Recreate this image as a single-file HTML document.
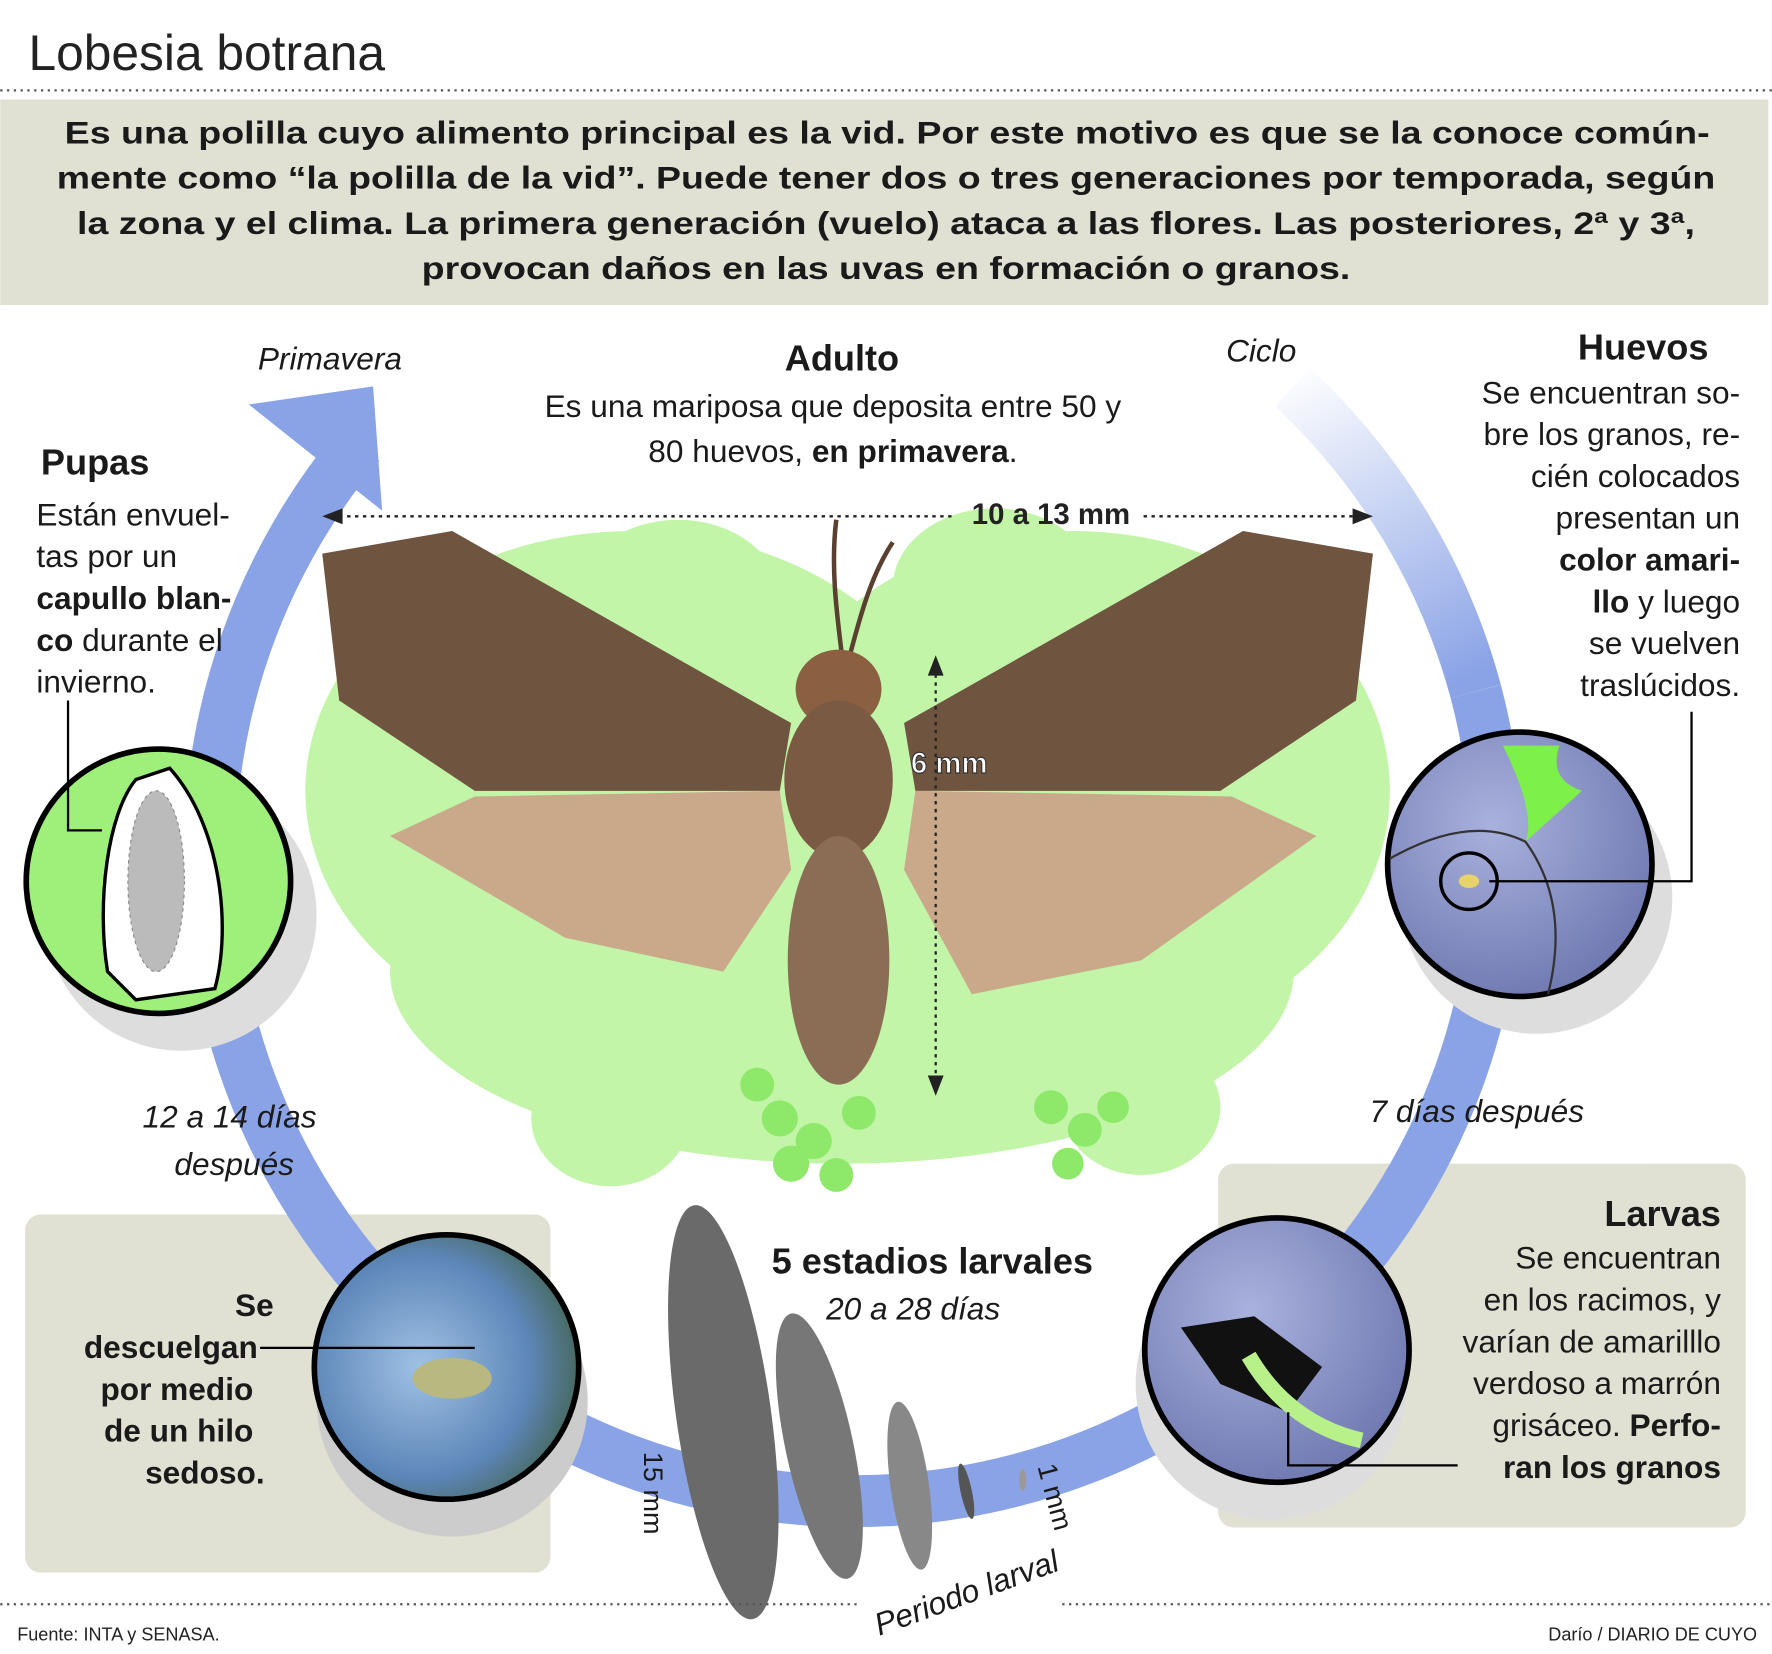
<!DOCTYPE html>
<html><head><meta charset="utf-8"><style>
html,body{margin:0;padding:0;background:#fff}
svg{display:block}
text{font-family:"Liberation Sans",sans-serif}
</style></head><body>
<svg width="1772" height="1654" viewBox="0 0 1568 1464" xmlns="http://www.w3.org/2000/svg">
<defs>
<linearGradient id="fade" gradientUnits="userSpaceOnUse" x1="1160" y1="320" x2="1300" y2="600">
<stop offset="0" stop-color="#8aa3e6" stop-opacity="0"/><stop offset="1" stop-color="#8aa3e6"/></linearGradient>
<radialGradient id="ball" cx="0.4" cy="0.35" r="0.7"><stop offset="0" stop-color="#a9b1dd"/><stop offset="1" stop-color="#6e78b0"/></radialGradient>
<radialGradient id="photo" cx="0.4" cy="0.5" r="0.7"><stop offset="0" stop-color="#9fc1e4"/><stop offset="0.6" stop-color="#5d86b8"/><stop offset="1" stop-color="#3b5a2f"/></radialGradient>
</defs>
<rect width="1568" height="1464" fill="#fff"/>
<text x="25" y="62" font-size="44" fill="#222">Lobesia botrana</text>
<line x1="0" y1="80" x2="1568" y2="80" stroke="#555" stroke-width="2" stroke-dasharray="2,4"/>
<rect x="0" y="88" width="1565" height="182" fill="#e0e0d3"/>
<g font-size="28" font-weight="bold" fill="#1a1a1a">
<text x="57" y="127" textLength="1456" lengthAdjust="spacingAndGlyphs">Es una polilla cuyo alimento principal es la vid. Por este motivo es que se la conoce común-</text>
<text x="50" y="167" textLength="1468" lengthAdjust="spacingAndGlyphs">mente como “la polilla de la vid”. Puede tener dos o tres generaciones por temporada, según</text>
<text x="68" y="207" textLength="1432" lengthAdjust="spacingAndGlyphs">la zona y el clima. La primera generación (vuelo) ataca a las flores. Las posteriores, 2ª y 3ª,</text>
<text x="373" y="247" textLength="822" lengthAdjust="spacingAndGlyphs">provocan daños en las uvas en formación o granos.</text>
</g>
<!-- boxes -->
<rect x="1078" y="1030" width="467" height="322" rx="14" fill="#e0e0d3"/>
<rect x="22" y="1075" width="465" height="317" rx="14" fill="#e0e0d3"/>
<!-- ring -->
<path d="M1306,612 A570,570 0 1 1 318,393" fill="none" stroke="#8aa3e6" stroke-width="46"/>
<path d="M1144,343 A570,570 0 0 1 1306,612" fill="none" stroke="url(#fade)" stroke-width="46"/>
<polygon points="330,342 220,358 338,452" fill="#8aa3e6"/>
<!-- leaves -->
<g fill="#c2f5a8">
<ellipse cx="560" cy="700" rx="290" ry="230"/><ellipse cx="950" cy="700" rx="280" ry="230"/>
<ellipse cx="745" cy="860" rx="400" ry="170"/><ellipse cx="600" cy="530" rx="90" ry="70"/><ellipse cx="880" cy="520" rx="90" ry="70"/>
<ellipse cx="540" cy="990" rx="70" ry="60"/><ellipse cx="1010" cy="980" rx="70" ry="60"/>
</g>
<g fill="#8ee86a">
<circle cx="690" cy="990" r="16"/><circle cx="720" cy="1010" r="16"/><circle cx="700" cy="1030" r="16"/><circle cx="740" cy="1040" r="15"/><circle cx="670" cy="960" r="15"/><circle cx="760" cy="985" r="15"/>
<circle cx="930" cy="980" r="15"/><circle cx="960" cy="1000" r="15"/><circle cx="945" cy="1030" r="14"/><circle cx="985" cy="980" r="14"/>
</g>
<!-- moth wings -->
<polygon points="285,490 400,470 700,640 690,700 420,700 300,620" fill="#6f5440"/>
<polygon points="1215,490 1100,470 800,640 810,700 1080,700 1200,620" fill="#6f5440"/>
<polygon points="345,740 420,705 690,700 700,770 640,860 500,830" fill="#c9a98a"/>
<polygon points="1165,740 1090,705 810,700 800,770 860,880 1010,850" fill="#c9a98a"/>
<path d="M740,460 C735,500 740,540 745,580 M790,480 C770,510 760,550 752,580" stroke="#5a4030" stroke-width="4" fill="none"/>
<ellipse cx="742" cy="610" rx="38" ry="35" fill="#8a6040"/>
<ellipse cx="742" cy="690" rx="48" ry="70" fill="#7a5a42"/>
<ellipse cx="742" cy="850" rx="45" ry="110" fill="#8b6d55"/>
<!-- arrows -->
<line x1="300" y1="457" x2="845" y2="457" stroke="#222" stroke-width="2" stroke-dasharray="3,4"/>
<line x1="1012" y1="457" x2="1200" y2="457" stroke="#222" stroke-width="2" stroke-dasharray="3,4"/>
<polygon points="285,457 303,450 303,464" fill="#222"/><polygon points="1215,457 1197,450 1197,464" fill="#222"/>
<text x="930" y="464" font-size="26" font-weight="bold" text-anchor="middle" fill="#222">10 a 13 mm</text>
<line x1="828" y1="590" x2="828" y2="960" stroke="#222" stroke-width="2" stroke-dasharray="3,4"/>
<polygon points="828,580 821,598 835,598" fill="#222"/><polygon points="828,970 821,952 835,952" fill="#222"/>
<text x="840" y="684" font-size="26" font-weight="bold" text-anchor="middle" fill="#fff" stroke="#333" stroke-width="1">6 mm</text>
<!-- circles -->
<circle cx="160" cy="810" r="120" fill="#ddd"/>
<circle cx="140" cy="780" r="117" fill="#9ef07a" stroke="#000" stroke-width="5"/>
<path d="M120,690 C95,720 85,800 95,860 L120,885 L190,875 C205,820 195,730 150,680 Z" fill="#fff" stroke="#000" stroke-width="3"/>
<ellipse cx="138" cy="780" rx="25" ry="80" fill="#bbb" stroke="#888" stroke-dasharray="3,3"/>
<polyline points="60,620 60,735 90,735" fill="none" stroke="#000" stroke-width="2"/>
<circle cx="1360" cy="795" r="120" fill="#ddd"/>
<circle cx="1345" cy="765" r="117" fill="url(#ball)" stroke="#000" stroke-width="5"/>
<path d="M1330,660 Q1360,720 1350,745 L1400,700 Q1370,690 1380,660 Z" fill="#7ef04a"/>
<path d="M1230,760 Q1300,720 1350,745 Q1390,800 1370,880" fill="none" stroke="#333" stroke-width="2"/>
<circle cx="1300" cy="780" r="25" fill="none" stroke="#000" stroke-width="3"/><ellipse cx="1300" cy="780" rx="9" ry="6" fill="#e8d36a"/>
<polyline points="1318,780 1497,780 1497,630" fill="none" stroke="#000" stroke-width="2"/>
<circle cx="1125" cy="1225" r="120" fill="#ddd"/>
<circle cx="1130" cy="1195" r="117" fill="url(#ball)" stroke="#000" stroke-width="5"/>
<path d="M1045,1175 L1110,1165 L1170,1210 L1140,1250 L1080,1225 Z" fill="#111"/>
<path d="M1105,1200 Q1140,1260 1205,1275" stroke="#b8f08a" stroke-width="14" fill="none"/>
<polyline points="1140,1250 1140,1297 1290,1297" fill="none" stroke="#000" stroke-width="2"/>
<circle cx="400" cy="1240" r="120" fill="#ccc"/>
<circle cx="395" cy="1210" r="117" fill="url(#photo)" stroke="#000" stroke-width="5"/>
<ellipse cx="400" cy="1220" rx="35" ry="18" fill="#b8b880"/>
<line x1="230" y1="1193" x2="420" y2="1193" stroke="#000" stroke-width="2"/>
<!-- larvae -->
<g fill="#555">
<ellipse cx="640" cy="1250" rx="42" ry="185" transform="rotate(-8 640 1250)" fill="#6a6a6a"/>
<ellipse cx="725" cy="1280" rx="30" ry="120" transform="rotate(-12 725 1280)" fill="#777"/>
<ellipse cx="805" cy="1315" rx="17" ry="75" transform="rotate(-8 805 1315)" fill="#888"/>
<ellipse cx="855" cy="1320" rx="5" ry="25" transform="rotate(-12 855 1320)"/>
<ellipse cx="905" cy="1310" rx="3" ry="10" fill="#999"/>
</g>
<!-- texts -->
<g fill="#1a1a1a">
<text x="228" y="327" font-size="28" font-style="italic">Primavera</text>
<text x="1085" y="320" font-size="28" font-style="italic">Ciclo</text>
<text x="745" y="328" font-size="32" font-weight="bold" text-anchor="middle">Adulto</text>
<text x="737" y="369" font-size="28" text-anchor="middle">Es una mariposa que deposita entre 50 y</text>
<text x="737" y="409" font-size="28" text-anchor="middle">80 huevos, <tspan font-weight="bold">en primavera</tspan>.</text>
<text x="36" y="420" font-size="32" font-weight="bold">Pupas</text>
<g font-size="28"><text x="32" y="465">Están envuel-</text><text x="32" y="502">tas por un</text>
<text x="32" y="539" font-weight="bold">capullo blan-</text><text x="32" y="576"><tspan font-weight="bold">co</tspan> durante el</text><text x="32" y="613">invierno.</text></g>
<g font-size="28" text-anchor="end"><text x="1512" y="318" font-size="32" font-weight="bold">Huevos</text>
<text x="1540" y="357">Se encuentran so-</text><text x="1540" y="394">bre los granos, re-</text><text x="1540" y="431">cién colocados</text>
<text x="1540" y="468">presentan un</text><text x="1540" y="505" font-weight="bold">color amari-</text>
<text x="1540" y="542"><tspan font-weight="bold">llo</tspan> y luego</text><text x="1540" y="579">se vuelven</text><text x="1540" y="616">traslúcidos.</text></g>
<text x="280" y="998" font-size="28" font-style="italic" text-anchor="end">12 a 14 días</text>
<text x="260" y="1040" font-size="28" font-style="italic" text-anchor="end">después</text>
<text x="1212" y="993" font-size="28" font-style="italic">7 días después</text>
<g font-size="28" text-anchor="end"><text x="1523" y="1085" font-size="32" font-weight="bold">Larvas</text>
<text x="1523" y="1123">Se encuentran</text><text x="1523" y="1160">en los racimos, y</text><text x="1523" y="1197">varían de amarilllo</text>
<text x="1523" y="1234">verdoso a marrón</text><text x="1523" y="1271">grisáceo. <tspan font-weight="bold">Perfo-</tspan></text><text x="1523" y="1308" font-weight="bold">ran los granos</text></g>
<g font-size="28" font-weight="bold" text-anchor="end"><text x="242" y="1165">Se</text><text x="228" y="1202">descuelgan</text>
<text x="224" y="1239">por medio</text><text x="224" y="1276">de un hilo</text><text x="234" y="1313">sedoso.</text></g>
<text x="825" y="1127" font-size="32" font-weight="bold" text-anchor="middle">5 estadios larvales</text>
<text x="808" y="1168" font-size="28" font-style="italic" text-anchor="middle">20 a 28 días</text>
<text x="570" y="1285" font-size="24" transform="rotate(90 570 1285)">15 mm</text>
<text x="918" y="1298" font-size="24" transform="rotate(75 918 1298)">1 mm</text>
<text x="778" y="1448" font-size="28" font-style="italic" transform="rotate(-20 778 1448)">Periodo larval</text>
</g>
<line x1="0" y1="1420" x2="760" y2="1420" stroke="#555" stroke-width="2" stroke-dasharray="2,4"/>
<line x1="940" y1="1420" x2="1568" y2="1420" stroke="#555" stroke-width="2" stroke-dasharray="2,4"/>
<text x="15" y="1452" font-size="16" fill="#222">Fuente: INTA y SENASA.</text>
<text x="1555" y="1452" font-size="16" fill="#222" text-anchor="end">Darío / DIARIO DE CUYO</text>
</svg>
</body></html>
